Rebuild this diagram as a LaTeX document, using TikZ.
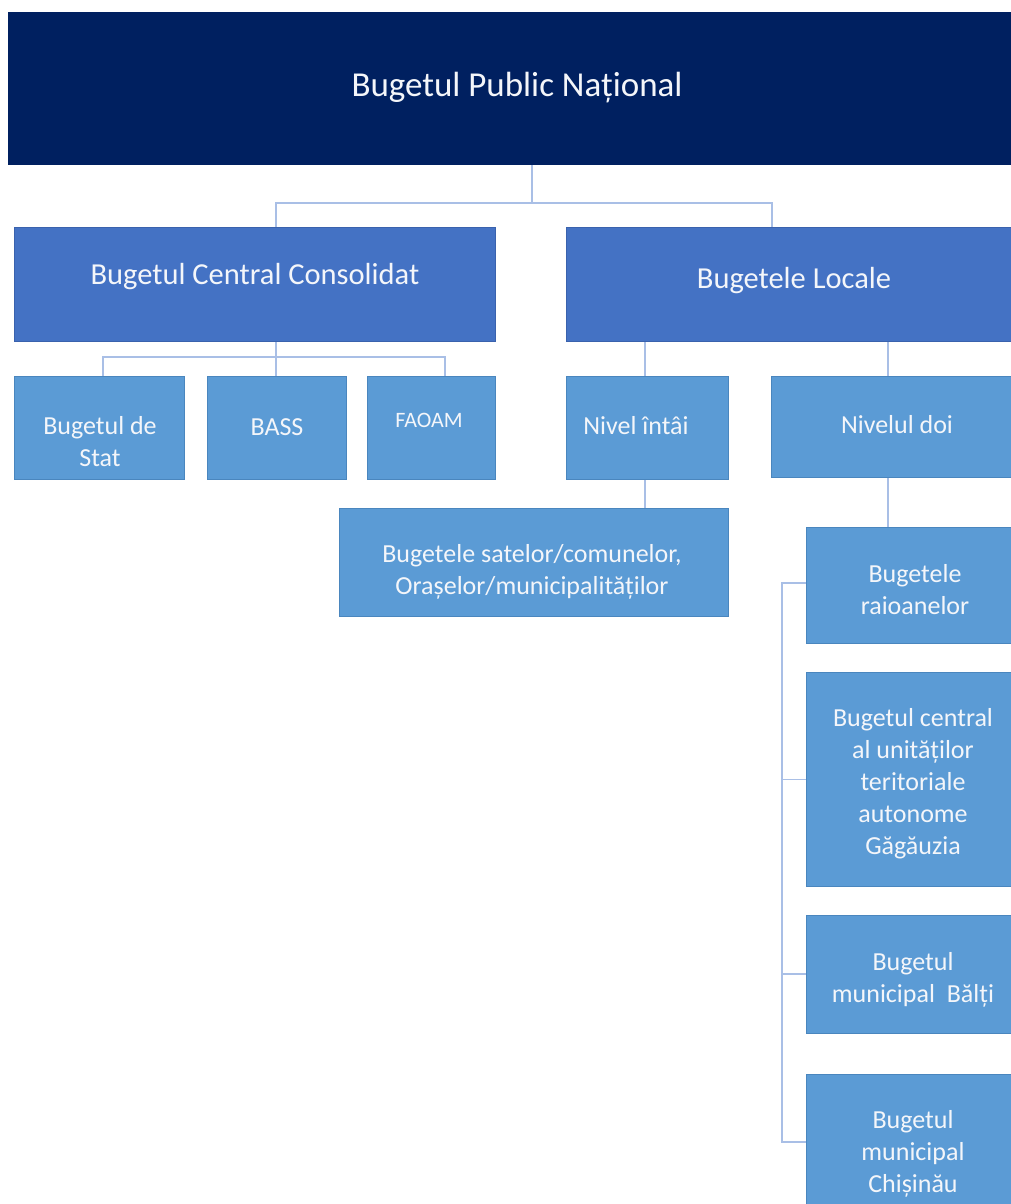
\documentclass[tikz,border=0pt]{standalone}
\usepackage{fontspec}
\setmainfont{Carlito}
\definecolor{navy}{HTML}{002060}
\definecolor{midblue}{HTML}{4472C4}
\definecolor{midedge}{HTML}{3A62AD}
\definecolor{lowblue}{HTML}{5B9BD5}
\definecolor{lowedge}{HTML}{4A86BE}
\definecolor{linec}{HTML}{A9BFE6}
\definecolor{txtc}{HTML}{F4F6FA}
\tikzset{
  topbox/.style={rectangle, fill=navy, draw=none, anchor=north west, inner sep=0pt},
  midbox/.style={rectangle, fill=midblue, draw=midedge, line width=1pt, anchor=north west, inner sep=0pt},
  lowbox/.style={rectangle, fill=lowblue, draw=lowedge, line width=1pt, anchor=north west, inner sep=0pt},
  conn/.style={draw=linec, line width=1.6pt},
  lbl/.style={text=txtc, align=center, inner sep=0pt},
  big/.style={font=\fontsize{35}{40}\selectfont},
  med/.style={font=\fontsize{30.5}{36}\selectfont},
  sml/.style={font=\fontsize{26}{32}\selectfont},
  tiny/.style={font=\fontsize{22}{26}\selectfont}
}
\begin{document}
\begin{tikzpicture}[x=1pt,y=-1pt]
\useasboundingbox (0,0) rectangle (1011,1204);
% boxes
\node[topbox, minimum width=1018pt, minimum height=153pt] (top) at (8,12) {};
\node[midbox, minimum width=481pt, minimum height=114pt] (cc) at (14,227) {};
\node[midbox, minimum width=456pt, minimum height=114pt] (bl) at (566,227) {};
\node[lowbox, minimum width=170pt, minimum height=103pt] (stat) at (14,376) {};
\node[lowbox, minimum width=139pt, minimum height=103pt] (bass) at (207,376) {};
\node[lowbox, minimum width=128pt, minimum height=103pt] (faoam) at (367,376) {};
\node[lowbox, minimum width=162pt, minimum height=103pt] (n1) at (566,376) {};
\node[lowbox, minimum width=252pt, minimum height=101pt] (n2) at (771,376) {};
\node[lowbox, minimum width=389pt, minimum height=108pt] (sate) at (339,508) {};
\node[lowbox, minimum width=218pt, minimum height=116pt] (raion) at (806,527) {};
\node[lowbox, minimum width=218pt, minimum height=214pt] (gag) at (806,672) {};
\node[lowbox, minimum width=218pt, minimum height=118pt] (balti) at (806,915) {};
\node[lowbox, minimum width=218pt, minimum height=146pt] (chis) at (806,1074) {};
% labels
\node[lbl, big] (ttop) at (517,88) {Bugetul Public Național};
\node[lbl, med] (tcc) at (255,277) {Bugetul Central Consolidat};
\node[lbl, med] (tbl) at (794,281) {Bugetele Locale};
\node[lbl, sml] (tstat) at (100,442) {Bugetul de\\Stat};
\node[lbl, sml] (tbass) at (277,427) {BASS};
\node[lbl, tiny] (tfaoam) at (429,420) {FAOAM};
\node[lbl, sml] (tn1) at (636,426) {Nivel întâi};
\node[lbl, sml] (tn2) at (897,425) {Nivelul doi};
\node[lbl, sml] (tsate) at (532,572) {Bugetele satelor/comunelor,\\Orașelor/municipalităților};
\node[lbl, sml] (traion) at (915,590) {Bugetele\\raioanelor};
\node[lbl, sml] (tgag) at (913,784) {Bugetul central\\al unităților\\teritoriale\\autonome\\Găgăuzia};
\node[lbl, sml] (tbalti) at (913,980) {Bugetul\\municipal\ \ Bălți};
\node[lbl, sml] (tchis) at (913,1154) {Bugetul\\municipal\\Chișinău};
% junction coordinates
\coordinate (j0) at (532,203);
\coordinate (jl) at (276,203);
\coordinate (jr) at (772,203);
\coordinate (k0) at (276,357);
\coordinate (kl) at (103,357);
\coordinate (kr) at (445,357);
\coordinate (m1) at (645,0);
\coordinate (m2) at (888,0);
\coordinate (br) at (782,0);
% connectors
\draw[conn] (top.south -| j0) -- (j0);
\draw[conn] (cc.north -| jl) -- (jl) -- (jr) -- (bl.north -| jr);
\draw[conn] (cc.south -| k0) -- (k0);
\draw[conn] (stat.north -| kl) -- (kl) -- (kr) -- (faoam.north -| kr);
\draw[conn] (bass.north -| k0) -- (k0);
\draw[conn] (bl.south -| m1) -- (n1.north -| m1);
\draw[conn] (bl.south -| m2) -- (n2.north -| m2);
\draw[conn] (n1.south -| m1) -- (sate.north -| m1);
\draw[conn] (n2.south -| m2) -- (raion.north -| m2);
\draw[conn] (raion.west |- 0,583) -- (br |- 0,583) -- (br |- 0,1142) -- (chis.west |- 0,1142);
\draw[conn] (br |- gag.west) -- (gag.west);
\draw[conn] (br |- 0,974) -- (balti.west |- 0,974);
\end{tikzpicture}
\end{document}
